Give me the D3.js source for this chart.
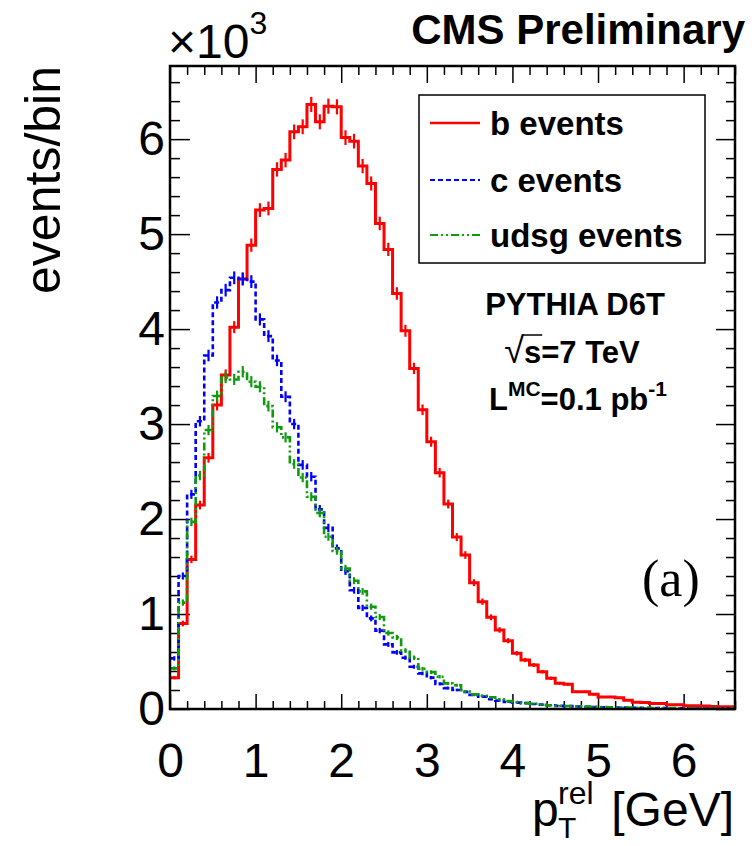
<!DOCTYPE html>
<html>
<head>
<meta charset="utf-8">
<script src="https://cdn.jsdelivr.net/npm/d3@7"></script>
<style>
  body { margin: 0; background: #fff; }
  text { font-family: "Liberation Sans", Arial, Helvetica, sans-serif; }
</style>
</head>
<body>
<div id="chart-area"></div>
<script>
// bin layout: 66 bins of 0.1 GeV starting at 0
var binWidth = 0.1;

// events per bin
var bCounts = [330, 900, 1575, 2147, 2645, 3200, 3516, 4020, 4528, 4884,
	5253, 5270, 5681, 5779, 6077, 6130, 6365, 6182, 6347, 6340,
	6016, 5979, 5716, 5533, 5112, 4839, 4375, 3982, 3586, 3150,
	2814, 2488, 2158, 1810, 1621, 1330, 1130, 965, 832, 719,
	586, 516, 463, 393, 323, 270, 260, 182, 182, 154,
	127, 127, 118, 92, 72, 68, 57, 57, 46, 44,
	34, 33, 31, 27, 25, 23];
var cCounts = [533, 1400, 2260, 3030, 3722, 4280, 4410, 4540, 4528, 4500,
	4102, 3926, 3670, 3288, 3000, 2570, 2446, 2102, 1907, 1691,
	1450, 1250, 1065, 954, 825, 680, 596, 540, 445, 375,
	330, 265, 220, 200, 180, 147, 130, 102, 88, 74,
	67, 62, 53, 46, 39, 33, 30, 26, 24, 21,
	19, 17, 15, 14, 12, 11, 10, 9, 8, 8,
	7, 6, 6, 5, 5, 4];
var udsgCounts = [428, 1120, 1970, 2458, 2937, 3295, 3490, 3470, 3551, 3446,
	3393, 3189, 2966, 2860, 2580, 2437, 2235, 2063, 1814, 1665,
	1480, 1351, 1238, 1077, 968, 800, 754, 615, 540, 423,
	388, 340, 270, 250, 185, 154, 140, 123, 102, 84,
	74, 62, 55, 44, 40, 35, 31, 28, 25, 22,
	20, 18, 16, 15, 13, 12, 11, 10, 9, 8,
	8, 7, 6, 6, 5, 5];

var seriesNames = ["b events", "c events", "udsg events"];
var xTickLabels = [0, 1, 2, 3, 4, 5, 6];
var yTickLabels = [0, 1000, 2000, 3000, 4000, 5000, 6000];

var margin = {left:170, right:20, top:66, bottom:137};
var width = 755 - margin.left - margin.right;
var height = 846 - margin.top - margin.bottom;

var svg = d3.select("#chart-area")
	.append("svg")
		.attr("width", 755)
		.attr("height", 846);

var g = svg.append("g")
	.attr("transform", "translate(" + margin.left + "," + margin.top + ")");

var x = d3.scaleLinear().domain([0, 6.6]).range([0, width]);
var y = d3.scaleLinear().domain([0, 6770]).range([height, 0]);

var xMinor = d3.range(0, 6.61, 0.2).filter(function(d){ return Math.abs(d - Math.round(d)) > 0.01; });
var yMinor = d3.range(0, 6771, 200).filter(function(d){ return d % 1000 != 0; });

// ticks: bottom / left with labels, top / right mirrored
function noDomain(sel){ sel.select(".domain").remove(); sel.selectAll("line").attr("stroke","#000").attr("stroke-width",1.5); }

g.append("g").attr("transform","translate(0," + height + ")")
	.call(d3.axisBottom(x).tickValues(xMinor).tickSize(-8).tickFormat(""))
	.call(noDomain);
g.append("g").attr("transform","translate(0," + height + ")")
	.call(d3.axisBottom(x).tickValues(xTickLabels).tickSize(-15).tickPadding(34).tickFormat(d3.format("d")))
	.call(noDomain)
	.selectAll("text").attr("font-size","48px").attr("fill","#000")
	.attr("font-family","Liberation Sans, Arial, sans-serif");

g.append("g")
	.call(d3.axisTop(x).tickValues(xMinor).tickSize(-9).tickFormat(""))
	.call(noDomain);
g.append("g")
	.call(d3.axisTop(x).tickValues(xTickLabels).tickSize(-17).tickFormat(""))
	.call(noDomain);

g.append("g")
	.call(d3.axisLeft(y).tickValues(yMinor).tickSize(-10).tickFormat(""))
	.call(noDomain);
g.append("g")
	.call(d3.axisLeft(y).tickValues(yTickLabels).tickSize(-20).tickPadding(5).tickFormat(function(d){ return d/1000; }))
	.call(noDomain)
	.selectAll("text").attr("font-size","48px").attr("fill","#000")
	.attr("font-family","Liberation Sans, Arial, sans-serif");

g.append("g").attr("transform","translate(" + width + ",0)")
	.call(d3.axisRight(y).tickValues(yMinor).tickSize(-9).tickFormat(""))
	.call(noDomain);
g.append("g").attr("transform","translate(" + width + ",0)")
	.call(d3.axisRight(y).tickValues(yTickLabels).tickSize(-19).tickFormat(""))
	.call(noDomain);

// histograms
g.append("clipPath").attr("id","plotclip")
	.append("rect").attr("x",0).attr("y",0).attr("width",width).attr("height",height);

var series = [
	{name: seriesNames[0], values: bCounts, color: "#ff0000", dash: null, lw: 3},
	{name: seriesNames[1], values: cCounts, color: "#0000ff", dash: "5,3", lw: 2.6},
	{name: seriesNames[2], values: udsgCounts, color: "#109a10", dash: "8,3,2,3,2,3", lw: 2.6}
];

var line = d3.line()
	.x(function(d){ return x(d[0]); })
	.y(function(d){ return y(d[1]); })
	.curve(d3.curveStepAfter);

var hg = g.append("g").attr("clip-path","url(#plotclip)");

series.forEach(function(s){
	var pts = s.values.map(function(v,i){ return [i*binWidth, v]; });
	pts.push([s.values.length*binWidth, s.values[s.values.length-1]]);

	hg.append("path")
		.attr("d", line(pts))
		.attr("fill","none")
		.attr("stroke", s.color)
		.attr("stroke-width", s.lw)
		.attr("stroke-dasharray", s.dash);

	// statistical error bars
	hg.selectAll(null)
		.data(s.values)
		.enter().append("line")
			.attr("x1", function(d,i){ return x((i+0.5)*binWidth); })
			.attr("x2", function(d,i){ return x((i+0.5)*binWidth); })
			.attr("y1", function(d){ return y(d + Math.sqrt(d)); })
			.attr("y2", function(d){ return y(d - Math.sqrt(d)); })
			.attr("stroke", s.color)
			.attr("stroke-width", 2.2);
});

// frame
g.append("rect")
	.attr("width", width).attr("height", height)
	.attr("fill","none").attr("stroke","#000").attr("stroke-width",2.5);

// legend
var leg = svg.append("g");
leg.append("rect")
	.attr("x",419).attr("y",95).attr("width",286).attr("height",168)
	.attr("fill","#fff").attr("stroke","#000").attr("stroke-width",1.5);

var legY = [123, 180, 235];
series.forEach(function(s,i){
	leg.append("line")
		.attr("x1",430).attr("x2",480)
		.attr("y1",legY[i]).attr("y2",legY[i])
		.attr("stroke", s.color).attr("stroke-width", s.lw - 0.4)
		.attr("stroke-dasharray", s.dash);
	leg.append("text")
		.attr("x",490).attr("y",legY[i] + 12)
		.attr("font-size","33px").attr("font-weight","bold")
		.text(s.name);
});

// info block
svg.append("text")
	.attr("x",575).attr("y",315)
	.attr("text-anchor","middle")
	.attr("font-size","31px").attr("font-weight","bold")
	.text("PYTHIA D6T");

var sq = svg.append("text")
	.attr("x",572).attr("y",363)
	.attr("text-anchor","middle")
	.attr("font-size","31px").attr("font-weight","bold");
sq.append("tspan").attr("font-weight","normal").attr("font-size","36px").text("\u221A");
sq.append("tspan").text("s=7 TeV");
var sBox = sq.node().getExtentOfChar(1);
var rBox = sq.node().getExtentOfChar(0);
svg.append("line")
	.attr("x1", rBox.x + rBox.width - 2).attr("x2", sBox.x + sBox.width + 1)
	.attr("y1", rBox.y + 5).attr("y2", rBox.y + 5)
	.attr("stroke","#000").attr("stroke-width",1.5);

var lum = svg.append("text")
	.attr("x",578).attr("y",410)
	.attr("text-anchor","middle")
	.attr("font-size","31px").attr("font-weight","bold");
lum.append("tspan").text("L");
lum.append("tspan").attr("font-size","21px").attr("dy","-14").text("MC");
lum.append("tspan").attr("dy","14").text("=0.1 pb");
lum.append("tspan").attr("font-size","21px").attr("dy","-14").text("-1");

svg.append("text")
	.attr("x",642).attr("y",596)
	.style("font-family","'Liberation Serif', 'Times New Roman', serif")
	.attr("font-size","52px")
	.text("(a)");

// titles
svg.append("text")
	.attr("text-anchor","end")
	.attr("transform","translate(60,66) rotate(-90)")
	.attr("font-size","50px")
	.text("events/bin");

var xt = svg.append("g");
xt.append("text").attr("x",734).attr("y",826).attr("text-anchor","end")
	.attr("font-size","48px").text("[GeV]");
xt.append("text").attr("x",532).attr("y",826)
	.attr("font-size","48px").text("p");
xt.append("text").attr("x",558).attr("y",804)
	.attr("font-size","32px").text("rel");
xt.append("text").attr("x",558).attr("y",838)
	.attr("font-size","30px").text("T");

var mult = svg.append("text").attr("x",168).attr("y",58).attr("font-size","48px");
mult.append("tspan").text("\u00D710");
mult.append("tspan").attr("font-size","32px").attr("dy","-24").text("3");

svg.append("text")
	.attr("x",745).attr("y",44)
	.attr("text-anchor","end")
	.attr("font-size","42px").attr("font-weight","bold")
	.text("CMS Preliminary");
</script>
</body>
</html>
